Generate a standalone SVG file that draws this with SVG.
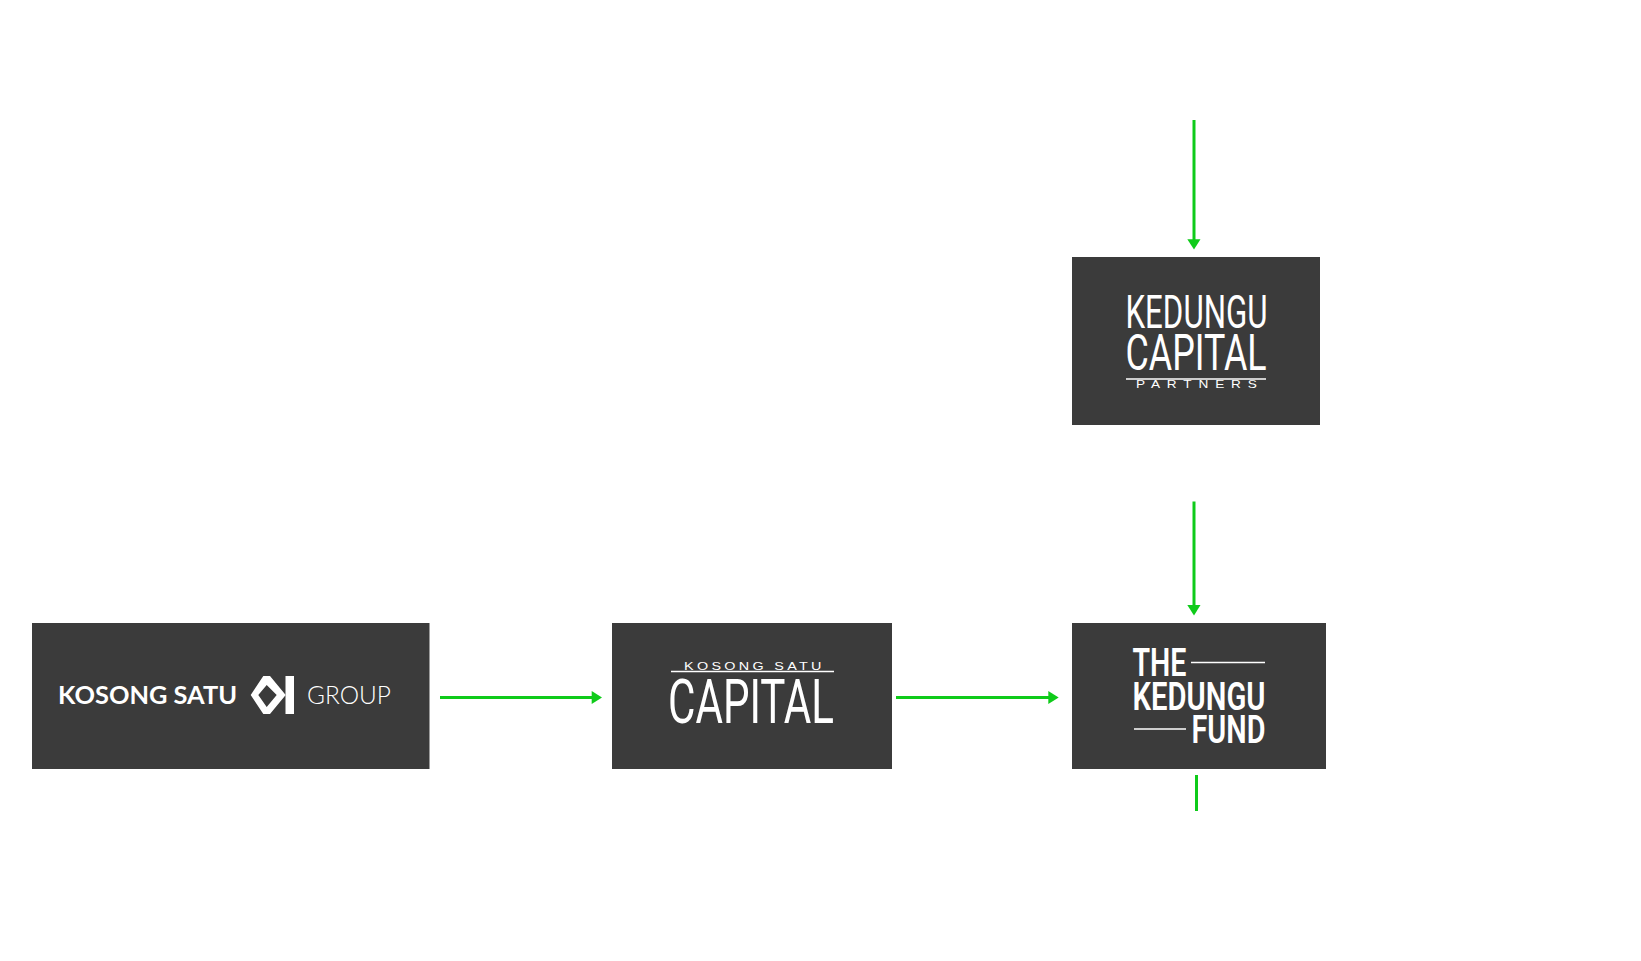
<svg xmlns="http://www.w3.org/2000/svg" width="1641" height="961" viewBox="0 0 1641 961">
<style>
.box{fill:#3b3b3b}
.edge{stroke:#0fcb1a;stroke-width:3;fill:none}
.head{fill:#0fcb1a}
text{fill:#fff;font-family:"Liberation Sans",Arial,sans-serif}
.c{font-family:"Roboto","Liberation Sans",sans-serif;font-weight:400}
.b{font-family:"Roboto","Liberation Sans",sans-serif;font-weight:600}
.l{font-family:"Lato","Liberation Sans",sans-serif}
.rule{stroke:#fff;stroke-width:1.3}
</style>
<rect width="1641" height="961" fill="#fff"/>
<g id="connectors">
<path class="edge" d="M1194 120V240"/><path class="head" d="M1187.300 239.300H1200.500L1194 249.500Z"/>
<path class="edge" d="M1194 501.500V605"/><path class="head" d="M1187.300 605H1200.500L1194 615.500Z"/>
<path class="edge" d="M440 697.500H592"/><path class="head" d="M591.700 691V704L602 697.500Z"/>
<path class="edge" d="M896 697.500H1049"/><path class="head" d="M1048.300 691V704L1058.700 697.500Z"/>
<path class="edge" d="M1196.500 775V811"/>
</g>
<g id="kosong-satu-group">
<rect class="box" x="32" y="623" width="397.500" height="146"/>
<text class="l" x="58" y="704" font-size="25" font-weight="700" textLength="179" lengthAdjust="spacingAndGlyphs">KOSONG SATU</text>
<path fill="#fff" fill-rule="evenodd" d="M250.700 695L263.300 676H270L285.700 695L270 714H263.300ZM258.300 695L266.700 707L276.700 695L266.700 685Z"/>
<rect x="285.500" y="676" width="8.500" height="38" fill="#fff"/>
<text class="l" x="307" y="704" font-size="25" font-weight="300" textLength="84" lengthAdjust="spacingAndGlyphs">GROUP</text>
</g>
<g id="kosong-satu-capital">
<rect class="box" x="612" y="623" width="280" height="146"/>
<text transform="translate(684 670) scale(1.25 1)" font-size="11.500" textLength="110">KOSONG SATU</text>
<path class="rule" d="M671 671.500H834"/>
<text class="c" x="668" y="722.500" font-size="61" textLength="166" lengthAdjust="spacingAndGlyphs">CAPITAL</text>
</g>
<g id="the-kedungu-fund">
<rect class="box" x="1072" y="623" width="254" height="146"/>
<text class="b" x="1132.500" y="676" font-size="38" textLength="54" lengthAdjust="spacingAndGlyphs">THE</text>
<path class="rule" d="M1191 662.500H1265"/>
<text class="b" x="1132.500" y="710" font-size="38" textLength="133" lengthAdjust="spacingAndGlyphs">KEDUNGU</text>
<path class="rule" d="M1134 729H1186"/>
<text class="b" x="1191.500" y="743" font-size="38" textLength="74" lengthAdjust="spacingAndGlyphs">FUND</text>
</g>
<g id="kedungu-capital-partners">
<rect class="box" x="1072" y="257" width="248" height="168"/>
<text class="c" x="1125.500" y="328" font-size="46" textLength="142" lengthAdjust="spacingAndGlyphs">KEDUNGU</text>
<text class="c" x="1125.500" y="370" font-size="50" textLength="141" lengthAdjust="spacingAndGlyphs">CAPITAL</text>
<path class="rule" d="M1126 379H1266"/>
<text transform="translate(1136 387.500) scale(1.3 1)" font-size="10.500" textLength="93">PARTNERS</text>
</g>
</svg>
